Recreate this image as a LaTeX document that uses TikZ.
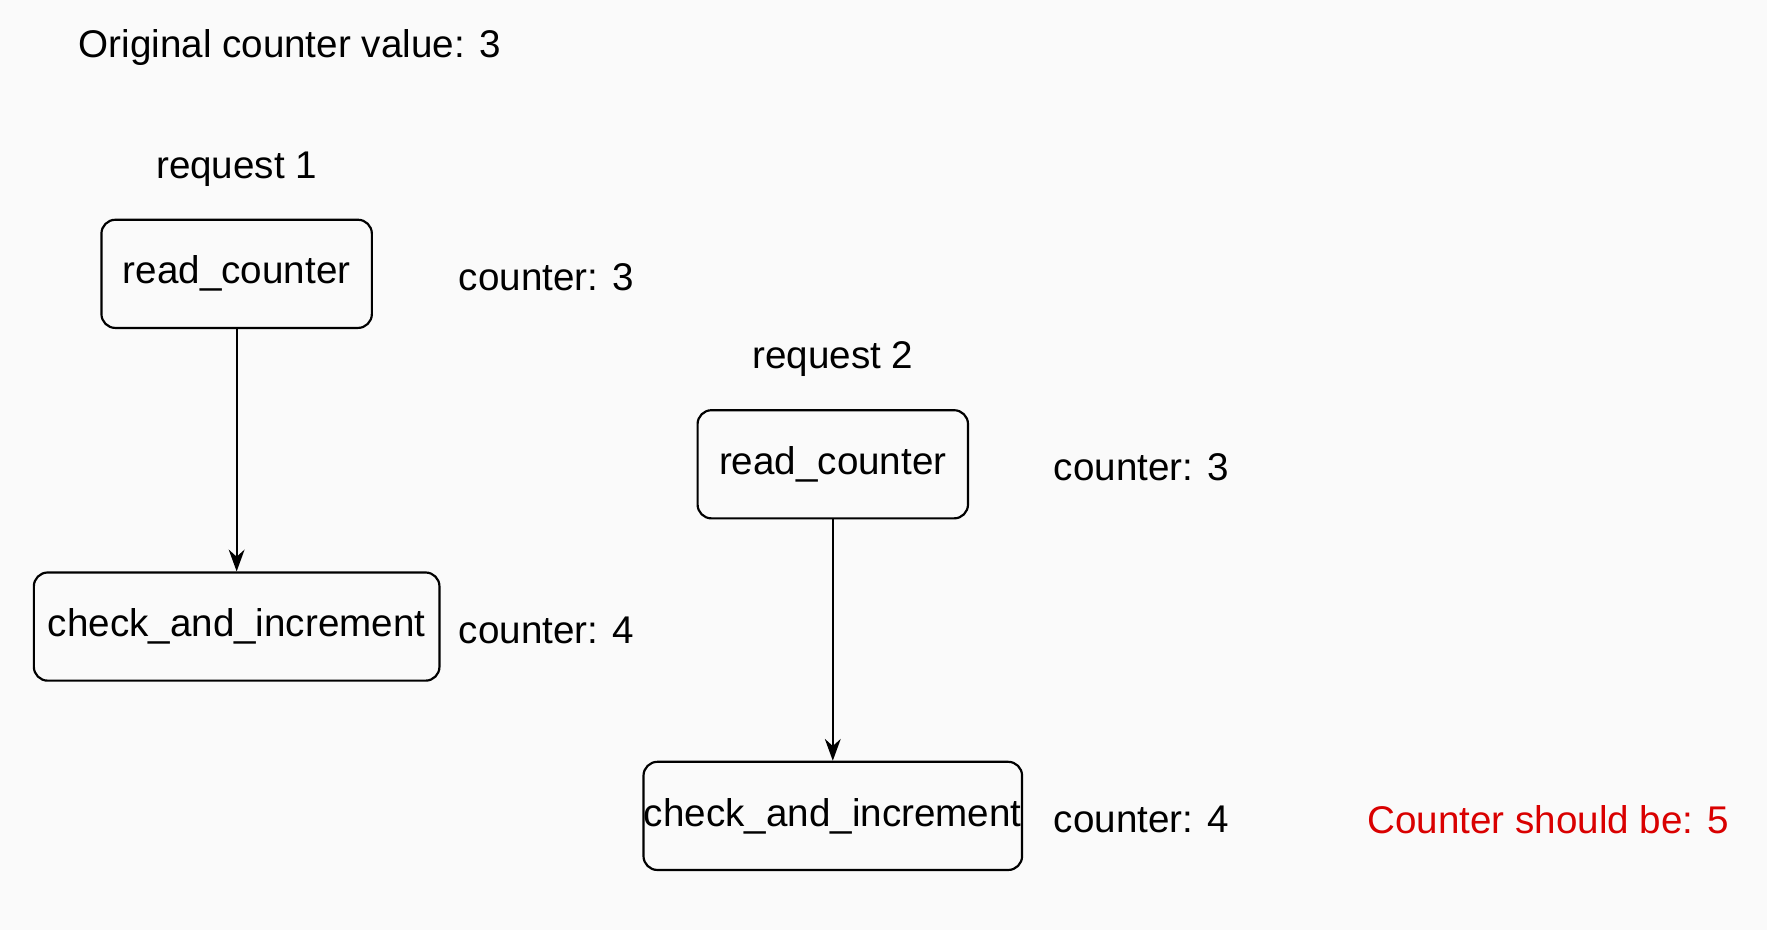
\documentclass[tikz,border=0pt]{standalone}
\usepackage{fontspec}
\setmainfont{Liberation Sans}
\usetikzlibrary{positioning, arrows.meta}

\begin{document}
\begin{tikzpicture}[
    x=0.02cm, y=-0.02cm,
    every node/.style={font=\fontsize{19.5}{23}\selectfont},
    box/.style={rectangle, rounded corners=7pt, draw, line width=1.1pt, minimum height=1.92cm, inner sep=0pt},
    flow/.style={-{Stealth[length=11pt, width=8pt]}, line width=1.1pt}
]
    \fill[white!98!black] (0,0) rectangle (1568,825);
    \useasboundingbox (0,0) rectangle (1568,825);

    % Title
    \node (orig) at (257,42) {Original counter value: 3};

    % Request 1
    \node (req1) at (210,150) {request 1};
    \node[box, minimum width=4.8cm] (read1) at (210,243) {read\_counter};
    \node[box, minimum width=7.2cm] (check1) at (210,556) {check\_and\_increment};
    \node (val1a) at (485,246) {counter: 3};
    \node (val1b) at (485,559) {counter: 4};

    % Request 2
    \node (req2) at (739,319) {request 2};
    \node[box, minimum width=4.8cm] (read2) at (739,412) {read\_counter};
    \node[box, minimum width=6.72cm] (check2) at (739,724) {check\_and\_increment};
    \node (val2a) at (1013,415) {counter: 3};
    \node (val2b) at (1013,727) {counter: 4};

    \node[text=red!85!black] (expect) at (1374,727) {Counter should be: 5};

    % Edges
    \draw[flow] (read1) -- (check1);
    \draw[flow] (read2) -- (check2);
\end{tikzpicture}
\end{document}
